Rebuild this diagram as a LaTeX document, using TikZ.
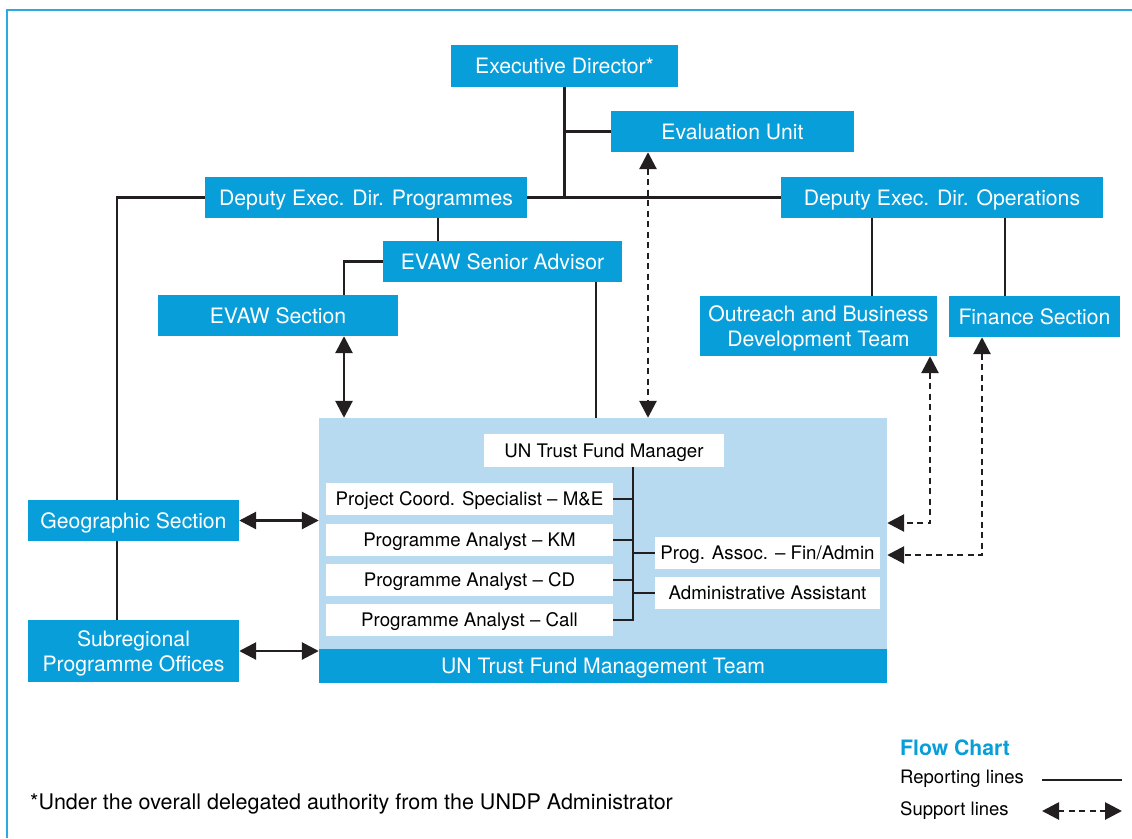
\documentclass[tikz,border=0pt]{standalone}
\usepackage{fontspec}
\setmainfont{TeX Gyre Heros}
\usetikzlibrary{arrows.meta}
\definecolor{unblue}{RGB}{8,158,218}
\definecolor{unlight}{RGB}{183,218,241}
\definecolor{unframe}{RGB}{41,171,226}
\definecolor{linegray}{RGB}{35,31,32}
\begin{document}
\begin{tikzpicture}[x=1pt,y=-1pt]
      \tikzstyle{bluebox} = [fill=unblue, text=white, inner sep=0pt, minimum height=41pt, text depth=0pt, align=center, font=\fontsize{21.2}{25}\selectfont]
      \tikzstyle{whitebox} = [fill=white, text=black, inner sep=0pt, minimum height=32pt, text depth=0pt, font=\fontsize{18.7}{20}\selectfont]
      \tikzstyle{rep} = [draw=linegray, line width=2.8pt]
      \tikzstyle{reparrow} = [rep, {Triangle[length=17pt,width=17pt]}-{Triangle[length=17pt,width=17pt]}]
      \tikzstyle{sup} = [draw=linegray, line width=2.8pt, dash pattern=on 6pt off 4.5pt, {Triangle[length=17pt,width=17pt]}-{Triangle[length=17pt,width=17pt]}]
      \useasboundingbox (0,0) rectangle (1132,838);
      \draw[unframe, line width=2pt] (7,838) -- (7,10) -- (1132,10);

      % top of the organisation
      \node[bluebox, minimum width=227pt, minimum height=42pt] (ed) at (564.5,66) {Executive Director*};
      \node[bluebox, minimum width=243pt] (eval) at (732.5,131.5) {Evaluation Unit};
      \node[bluebox, minimum width=322pt] (dedp) at (366,197.5) {Deputy Exec. Dir. Programmes};
      \node[bluebox, minimum width=322pt] (dedo) at (942,197.5) {Deputy Exec. Dir. Operations};
      \node[bluebox, minimum width=239pt] (evsa) at (502.5,261.5) {EVAW Senior Advisor};
      \node[bluebox, minimum width=240pt] (evsec) at (278,315.5) {EVAW Section};
      \node[bluebox, minimum width=237pt, minimum height=60pt] (obd) at (818.5,326) {Outreach and Business\\Development Team};
      \node[bluebox, minimum width=171pt] (fin) at (1034.5,316.5) {Finance Section};
      \node[bluebox, minimum width=211pt] (geo) at (133.5,520.5) {Geographic Section};
      \node[bluebox, minimum width=211pt, minimum height=62pt] (sub) at (133.5,651) {Subregional\\Programme Offices};

      % management team
      \node[fill=unlight, inner sep=0pt, minimum width=568pt, minimum height=231pt] (team) at (603,533.5) {};
      \node[bluebox, minimum width=568pt, minimum height=34pt] (teamft) at (603,666) {UN Trust Fund Management Team};
      \node[whitebox, minimum width=240pt, minimum height=33pt] (mgr) at (604,450.5) {UN Trust Fund Manager};
      \node[whitebox, minimum width=287pt] (me) at (469.5,499) {Project Coord. Specialist -- M\&E};
      \node[whitebox, minimum width=287pt] (km) at (469.5,540) {Programme Analyst -- KM};
      \node[whitebox, minimum width=287pt] (cd) at (469.5,580) {Programme Analyst -- CD};
      \node[whitebox, minimum width=287pt] (call) at (469.5,620) {Programme Analyst -- Call};
      \node[whitebox, minimum width=225pt] (pa) at (767.5,553) {Prog. Assoc. -- Fin/Admin};
      \node[whitebox, minimum width=225pt] (aa) at (767.5,593) {Administrative Assistant};
      \coordinate (bus) at (633,467);

      \draw[rep] (dedp.east) to (dedo.west);
      \draw[rep] (ed.south) to (ed.south |- dedp.east);
      \draw[rep] (eval.west) to (eval.west -| ed.south);
      \draw[rep] (dedp.west) -| ([xshift=-16.5pt]geo.north);
      \draw[rep] ([xshift=-16.5pt]geo.south) to ([xshift=-16.5pt]sub.north);
      \draw[rep] ([xshift=72pt]dedp.south) to ([xshift=72pt]dedp.south |- evsa.north);
      \draw[rep] (evsa.west) -| ([xshift=66pt]evsec.north);
      \draw[rep] ([xshift=93.5pt]evsa.south) to ([xshift=93.5pt]evsa.south |- team.north);
      \draw[rep] ([xshift=-70pt]dedo.south) to ([xshift=-70pt]dedo.south |- obd.north);
      \draw[rep] ([xshift=63pt]dedo.south) to ([xshift=63pt]dedo.south |- fin.north);

      \draw[reparrow] ([xshift=66pt]evsec.south) to ([xshift=66pt]evsec.south |- team.north);
      \draw[reparrow] (geo.east) to (geo.east -| team.west);
      \draw[reparrow] (sub.east) to (sub.east -| team.west);
      \draw[sup] ([xshift=-84.5pt]eval.south) to ([xshift=-84.5pt]eval.south |- team.north);
      \draw[sup] ([xshift=111.5pt]obd.south) |- ([yshift=10.5pt]team.east);
      \draw[sup] ([xshift=-52.5pt]fin.south) |- ([yshift=-21.5pt]team.east);

      \draw[rep] (bus) |- (call.east);
      \draw[rep] (me.east) to (me.east -| bus);
      \draw[rep] (km.east) to (km.east -| bus);
      \draw[rep] (cd.east) to (cd.east -| bus);
      \draw[rep] (pa.west) to (pa.west -| bus);
      \draw[rep] (aa.west) to (aa.west -| bus);

      % legend and note
      \node[anchor=west, inner sep=0pt, text=unblue, font=\bfseries\fontsize{21.2}{22}\selectfont] (lgtitle) at (900,748) {Flow Chart};
      \node[anchor=west, inner sep=0pt, font=\fontsize{18.5}{20}\selectfont] (lgrep) at (900,779) {Reporting lines};
      \node[anchor=west, inner sep=0pt, font=\fontsize{18.5}{20}\selectfont] (lgsup) at (900,811) {Support lines};
      \coordinate (rl1) at (1042,780);
      \coordinate (rl2) at (1122,780);
      \coordinate (sl1) at (1042,811);
      \coordinate (sl2) at (1122,811);
      \draw[rep] (rl1) to (rl2);
      \draw[sup] (sl1) to (sl2);
      \node[anchor=west, inner sep=0pt, font=\fontsize{21.5}{22}\selectfont] (note) at (30,804) {*Under the overall delegated authority from the UNDP Administrator};
\end{tikzpicture}
\end{document}
